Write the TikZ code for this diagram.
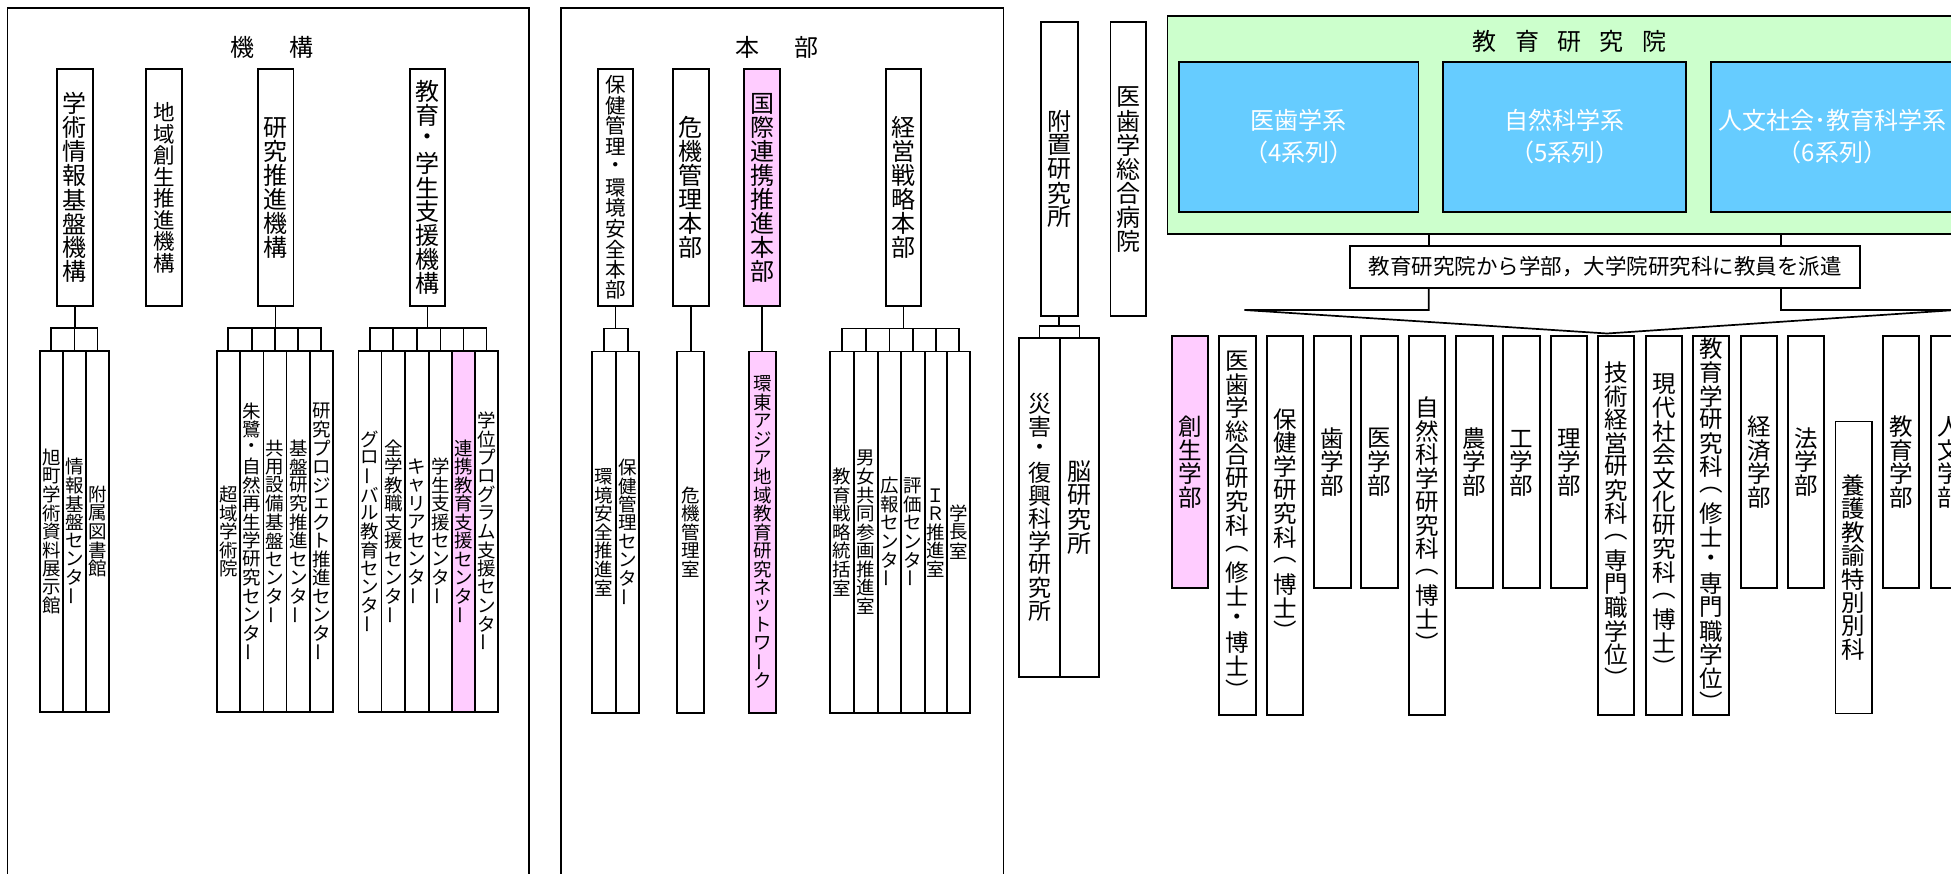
\documentclass[tikz,border=0pt]{standalone}
\usepackage{fontspec}
\setmainfont{Noto Sans CJK JP}
\usetikzlibrary{calc}
\definecolor{pinkf}{HTML}{FFCCFF}
\definecolor{greenf}{HTML}{CCFFCC}
\definecolor{bluef}{HTML}{66CCFF}
\newcommand\fs[1]{\fontsize{#1}{#1}\selectfont}
\let\vtend\relax
\def\vtloop#1{\ifx#1\vtend\else\vtchar{#1}\expandafter\vtloop\fi}
\def\vtchar#1{\vbox to 1em{\vss\hbox to 1em{\hss#1\hss}\vss}}
\newcommand\vtxt[1]{\vbox{\offinterlineskip\vtloop#1\vtend}}
\newcommand\vbar{\rotatebox[origin=c]{90}{ー}}
\tikzset{
  box/.style={draw,line width=1.8pt,inner sep=0pt,fill=white},
  pinkbox/.style={box,fill=pinkf},
  con/.style={line width=1.7pt},
  panel/.style={draw,line width=1.6pt},
  ttl/.style={inner sep=0pt,font=\fs{24}},
}
% [opts]{name}{x1}{x2}{y1}{y2}{text}
\newcommand\vb[7][]{\node[box,#1,minimum width={(#4)-(#3)},minimum height={(#6)-(#5)}] (#2) at ({((#3)+(#4))/2},{-((#5)+(#6))/2}) {\vtxt{#7}};}
% parent, first child, last child, middle children
\newcommand\brak[4]{%
  \coordinate (#2t) at ([yshift=22pt]#2.north);
  \draw[con] (#1.south) -- (#1.south |- #2t);
  \draw[con] (#2.north) -- (#2t) -| (#3.north);
  \foreach \m in {#4} {\draw[con] (\m.north) -- (\m.north |- #2t);}
}
\begin{document}
\begin{tikzpicture}[x=1pt,y=1pt]
\useasboundingbox (0,0) rectangle (1951,-874);
\clip (0,0) rectangle (1951,-874);
\fill[white] (0,0) rectangle (1951,-874);

% ---------------- left panel: 機構
\draw[panel] (7.6,-8.3) rectangle (529,-900);
\node[ttl] (t1) at (272,-47) {機\hspace{1.42em}構};
\vb[font=\fs{24}]{a1}{57}{92.6}{69.3}{306}{学術情報基盤機構}
\vb[font=\fs{21.5}]{a2}{146}{182}{69.3}{306}{地域創生推進機構}
\vb[font=\fs{24}]{a3}{257.6}{293.4}{69.3}{306}{研究推進機構}
\vb[font=\fs{24}]{a4}{410}{445}{69.3}{306}{教育・学生支援機構}

\vb[font=\fs{18.5}]{g11}{39.6}{63}{351}{712}{旭町学術資料展示館}
\vb[font=\fs{18.5}]{g12}{63}{85.7}{351}{712}{情報基盤センタ\vbar}
\vb[font=\fs{18.5}]{g13}{85.7}{109}{351}{712}{附属図書館}

\vb[font=\fs{18.5}]{g21}{216.6}{240}{351}{712}{超域学術院}
\vb[font=\fs{18.5}]{g22}{240}{263.4}{351}{712}{朱鷺・自然再生学研究センタ\vbar}
\vb[font=\fs{18.5}]{g23}{263.4}{286.5}{351}{712}{共用設備基盤センタ\vbar}
\vb[font=\fs{18.5}]{g24}{286.5}{310}{351}{712}{基盤研究推進センタ\vbar}
\vb[font=\fs{18.5}]{g25}{310}{332.6}{351}{712}{研究プロジェクト推進センタ\vbar}

\vb[font=\fs{18.5}]{g31}{358.5}{381.5}{351}{712}{グロ\vbar バル教育センタ\vbar}
\vb[font=\fs{18.5}]{g32}{381.5}{405}{351}{712}{全学教職支援センタ\vbar}
\vb[font=\fs{18.5}]{g33}{405}{428.7}{351}{712}{キャリアセンタ\vbar}
\vb[font=\fs{18.5}]{g34}{428.7}{452}{351}{712}{学生支援センタ\vbar}
\vb[pinkbox,font=\fs{18.5}]{g35}{452}{475}{351}{712}{連携教育支援センタ\vbar}
\vb[font=\fs{18.5}]{g36}{475}{498}{351}{712}{学位プログラム支援センタ\vbar}

\brak{a1}{g11}{g13}{g12}
\brak{a3}{g21}{g25}{g22,g23,g24}
\brak{a4}{g31}{g36}{g32,g33,g34,g35}

% ---------------- middle panel: 本部
\draw[panel] (560.7,-8.3) rectangle (1003.3,-900);
\node[ttl] (t2) at (777,-47) {本\hspace{1.46em}部};
\vb[font=\fs{20.5}]{b1}{597.7}{633.3}{69.3}{306}{保健管理・環境安全本部}
\vb[font=\fs{24}]{b2}{673}{708.7}{69.3}{306}{危機管理本部}
\vb[pinkbox,font=\fs{24}]{b3}{744.3}{780}{69.3}{306}{国際連携推進本部}
\vb[font=\fs{24}]{b4}{885.7}{921}{69.3}{306}{経営戦略本部}

\vb[font=\fs{18.5}]{h11}{591.7}{616}{351.5}{713}{環境安全推進室}
\vb[font=\fs{18.5}]{h12}{616}{639.3}{351.5}{713}{保健管理センタ\vbar}
\vb[font=\fs{18.5}]{h21}{677.3}{704.3}{351.5}{713}{危機管理室}
\vb[pinkbox,font=\fs{18.5}]{h31}{749.3}{775.7}{351.5}{713}{環東アジア地域教育研究ネットワ\vbar ク}
\vb[font=\fs{18.5}]{h41}{830.3}{853.7}{351.5}{713}{教育戦略統括室}
\vb[font=\fs{18.5}]{h42}{853.7}{877.7}{351.5}{713}{男女共同参画推進室}
\vb[font=\fs{18.5}]{h43}{877.7}{901}{351.5}{713}{広報センタ\vbar}
\vb[font=\fs{18.5}]{h44}{901}{925}{351.5}{713}{評価センタ\vbar}
\vb[font=\fs{18.5}]{h45}{925}{947.3}{351.5}{713}{ＩＲ推進室}
\vb[font=\fs{18.5}]{h46}{947.3}{970}{351.5}{713}{学長室}

\brak{b1}{h11}{h12}{}
\draw[con,line width=2.4pt] (b2.south) -- (b2.south |- h21.north);
\draw[con] (b3.south) -- (b3.south |- h31.north);
\brak{b4}{h41}{h46}{h42,h43,h44,h45}

% ---------------- right region
\vb[font=\fs{24}]{r1}{1040.6}{1077.6}{22.3}{315.7}{附置研究所}
\vb[font=\fs{24}]{r2}{1110.4}{1145.6}{22.3}{315.7}{医歯学総合病院}
\vb[font=\fs{23}]{r11}{1019}{1060}{337.7}{676.7}{災害・復興科学研究所}
\vb[font=\fs{24}]{r12}{1060}{1098.7}{337.7}{676.7}{脳研究所}
\coordinate (r11t) at ([yshift=11pt]r11.north);
\draw[con] (r1.south) -- (r1.south |- r11t);
\draw[con] (r11.north) -- (r11t) -| (r12.north);

% 教育研究院
\node[draw,line width=1.8pt,fill=greenf,inner sep=0pt,minimum width=797.6,minimum height=218] (kyo) at (1566.2,-125) {};
\node[ttl] (t3) at (1569.5,-41.7) {教\hspace{.77em}育\hspace{.77em}研\hspace{.77em}究\hspace{.77em}院};
\tikzset{bluebox/.style={draw,line width=1.8pt,fill=bluef,inner sep=0pt,text=white,align=center,font=\fontsize{24}{31.5}\selectfont,minimum height=150}}
\node[bluebox,minimum width=239.6] (bl1) at (1298.7,-136.7) {医歯学系\\（4系列）};
\node[bluebox,minimum width=242.7] (bl2) at (1564.65,-136.7) {自然科学系\\（5系列）};
\node[bluebox,minimum width=243.2] (bl3) at (1832.4,-136.7) {人文社会･教育科学系\\（6系列）};

\node[box,font=\fs{21.5},minimum width=510,minimum height=42.3] (disp) at (1605,-266.8) {教育研究院から学部，大学院研究科に教員を派遣};
\coordinate (dl) at (1428.8,0);
\coordinate (dr) at (1781,0);
\coordinate (fanL) at (1244.3,-310);
\coordinate (fanR) at (1956,-310);
\coordinate (apex) at (1607,-333.5);
\draw[con] (dl |- kyo.south) -- (dl |- disp.north);
\draw[con] (dr |- kyo.south) -- (dr |- disp.north);
\draw[con,line join=miter] (dl |- disp.south) |- (fanL) -- (apex) -- (fanR) -| (dr |- disp.south);

% faculties
\def\ft{335.7}
\def\fsb{588.3}
\def\flb{715}
\vb[pinkbox,font=\fs{23.5}]{f1}{1172.3}{1208.3}{\ft}{\fsb}{創生学部}
\vb[font=\fs{23.5}]{f2}{1219}{1256}{\ft}{\flb}{医歯学総合研究科︵修士・博士︶}
\vb[font=\fs{23.5}]{f3}{1266.7}{1303.3}{\ft}{\flb}{保健学研究科︵博士︶}
\vb[font=\fs{23.5}]{f4}{1313.7}{1350.7}{\ft}{\fsb}{歯学部}
\vb[font=\fs{23.5}]{f5}{1361.3}{1398}{\ft}{\fsb}{医学部}
\vb[font=\fs{23.5}]{f6}{1409}{1445.3}{\ft}{\flb}{自然科学研究科︵博士︶}
\vb[font=\fs{23.5}]{f7}{1456.3}{1492.7}{\ft}{\fsb}{農学部}
\vb[font=\fs{23.5}]{f8}{1503.3}{1540}{\ft}{\fsb}{工学部}
\vb[font=\fs{23.5}]{f9}{1551}{1587.3}{\ft}{\fsb}{理学部}
\vb[font=\fs{23.5}]{f10}{1598.3}{1634.3}{\ft}{\flb}{技術経営研究科︵専門職学位︶}
\vb[font=\fs{23.5}]{f11}{1646}{1682.3}{\ft}{\flb}{現代社会文化研究科︵博士︶}
\vb[font=\fs{23.5}]{f12}{1693.3}{1729.3}{\ft}{\flb}{教育学研究科︵修士・専門職学位︶}
\vb[font=\fs{23.5}]{f13}{1741}{1776.7}{\ft}{\fsb}{経済学部}
\vb[font=\fs{23.5}]{f14}{1788.3}{1824}{\ft}{\fsb}{法学部}
\vb[font=\fs{23.5}]{f15}{1835.5}{1871.7}{421.5}{713.5}{養護教諭特別別科}
\vb[font=\fs{23.5}]{f16}{1882.7}{1919.3}{\ft}{\fsb}{教育学部}
\vb[font=\fs{23.5}]{f17}{1931}{1967}{\ft}{\fsb}{人文学部}
\end{tikzpicture}
\end{document}
